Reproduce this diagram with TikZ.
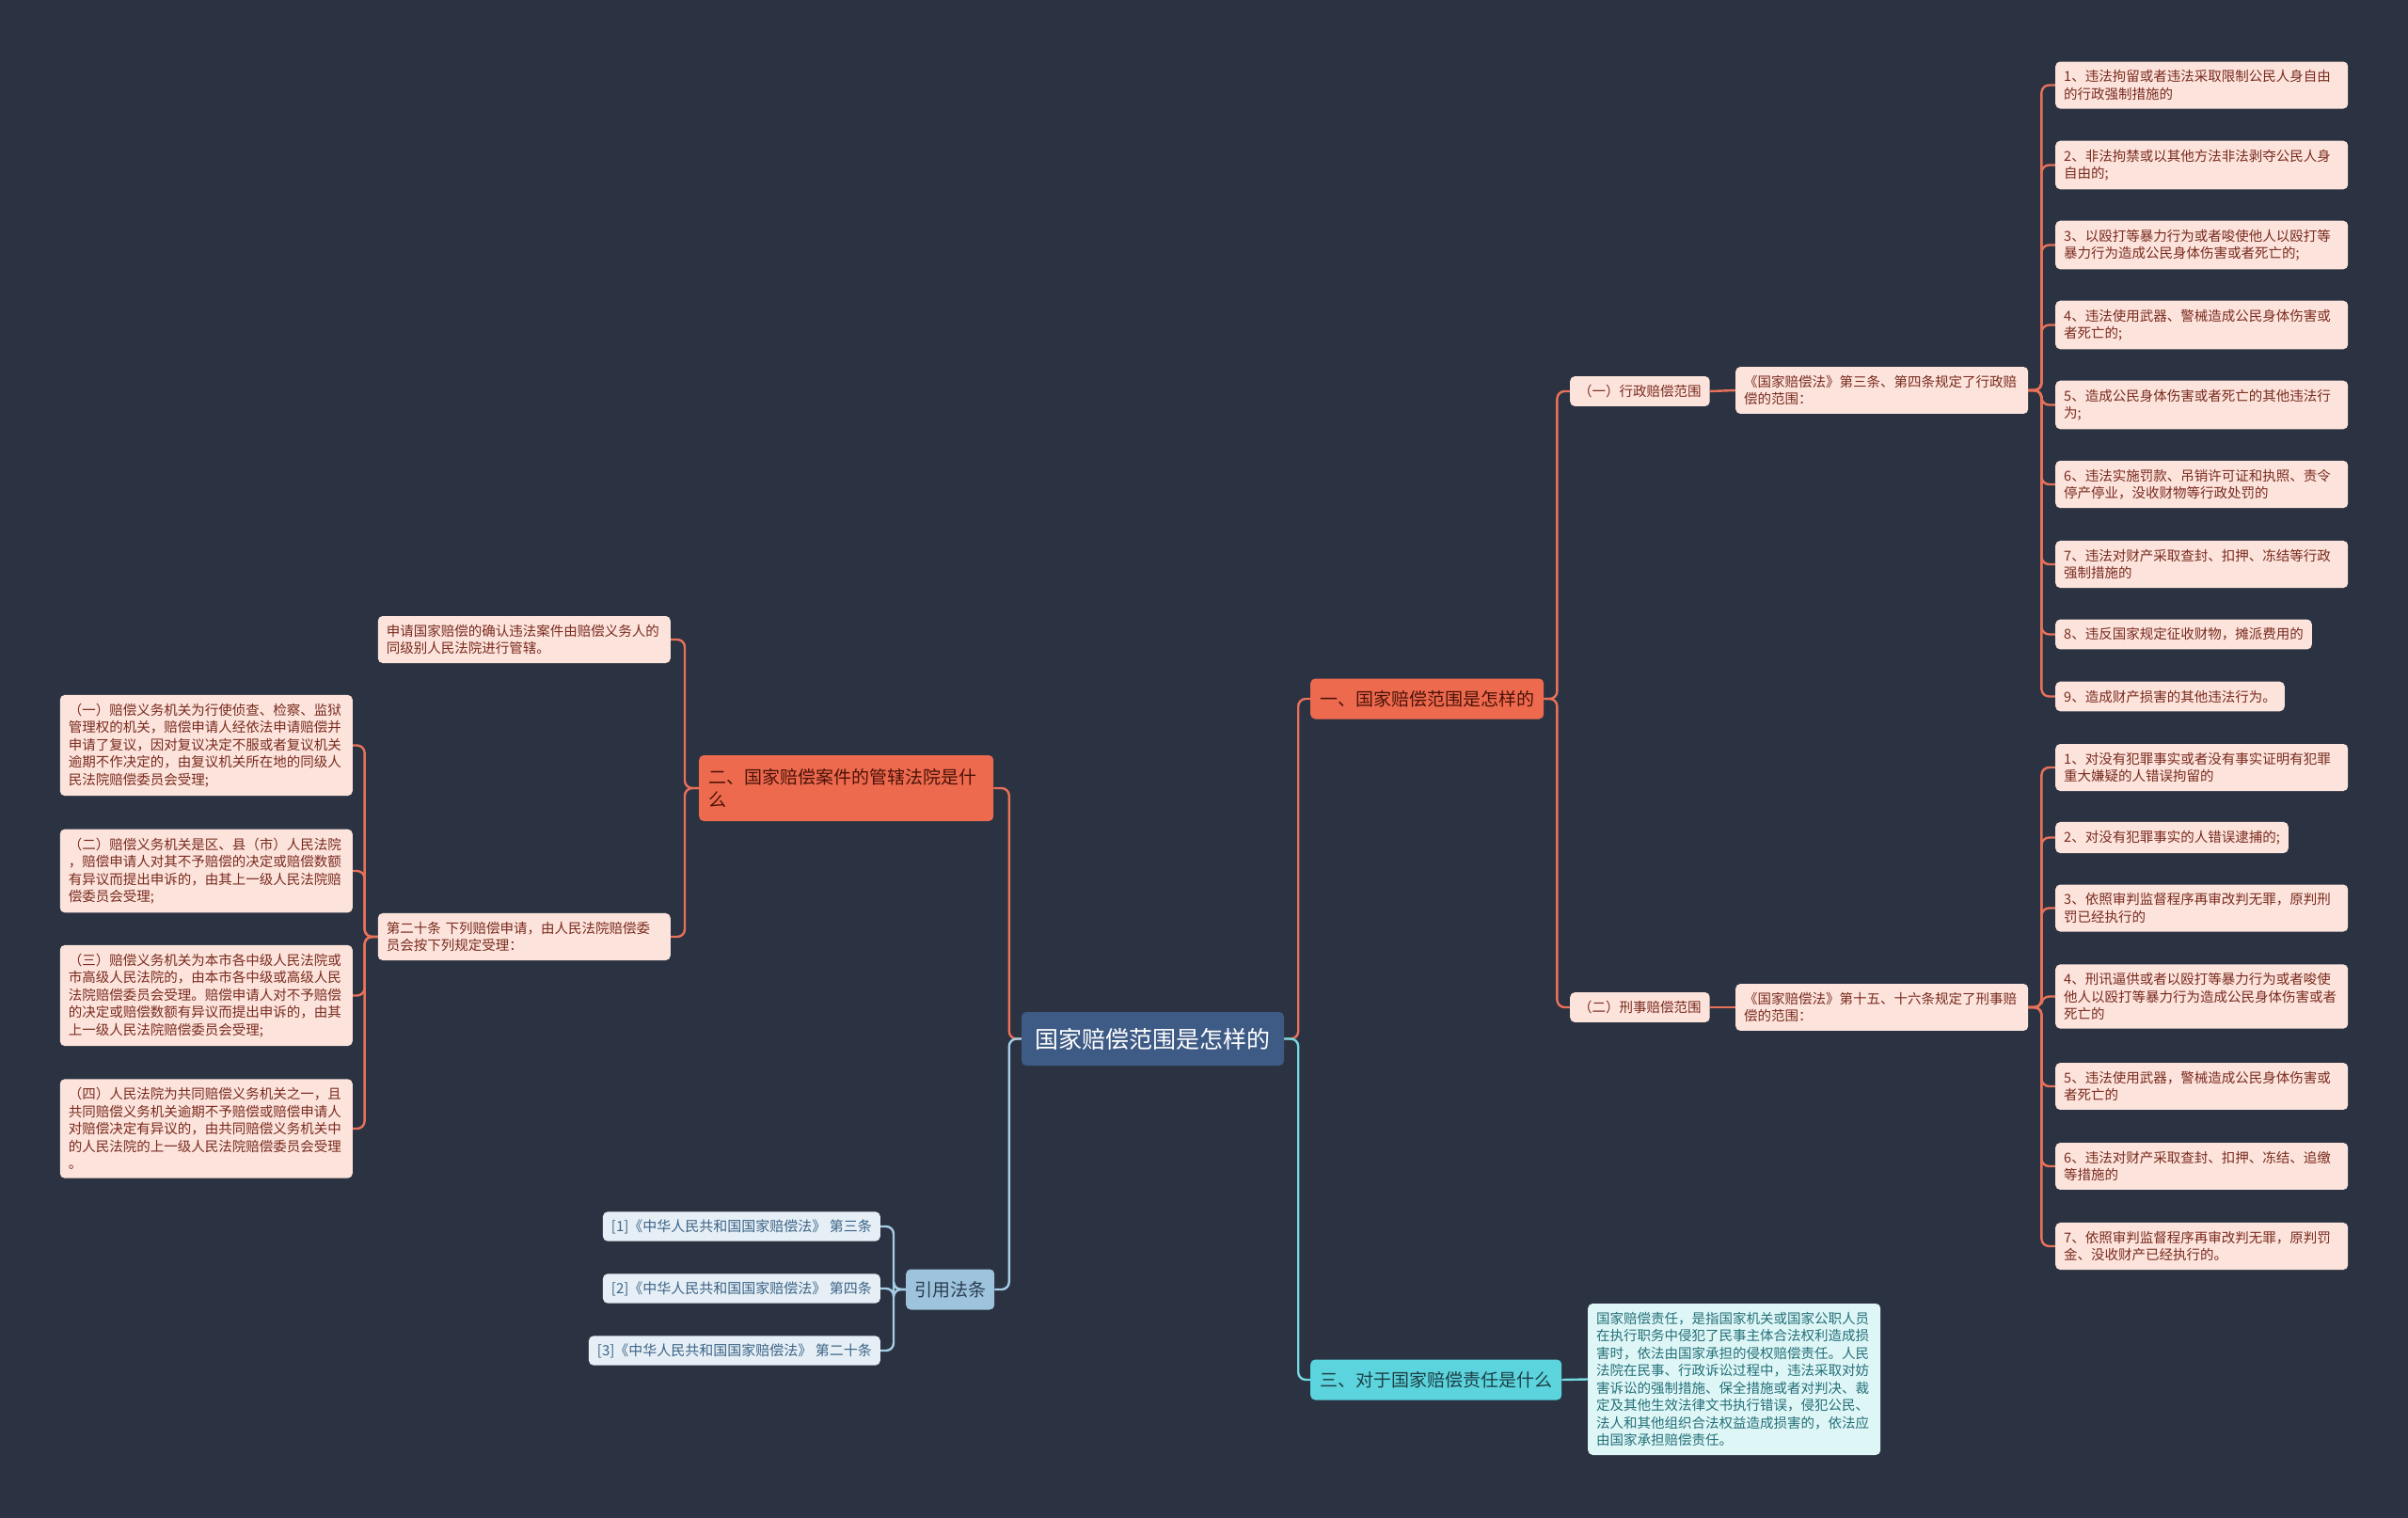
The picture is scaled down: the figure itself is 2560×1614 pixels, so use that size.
\documentclass[tikz,border=0pt]{standalone}
\usepackage{fontspec}
\newfontfamily\cjk{Noto Sans CJK SC}
\usetikzlibrary{positioning, backgrounds}
\definecolor{bgdark}{HTML}{2B3241}
\definecolor{rootblue}{HTML}{3E5B85}
\definecolor{coral}{HTML}{EE6A4E}
\definecolor{coralline}{HTML}{E8715A}
\definecolor{topicink}{HTML}{4A1208}
\definecolor{leafpink}{HTML}{FCE4DC}
\definecolor{leafink}{HTML}{7A2A1E}
\definecolor{aqua}{HTML}{5CD4DD}
\definecolor{aqualine}{HTML}{74D8E0}
\definecolor{aquaink}{HTML}{1D3F46}
\definecolor{aqualeaf}{HTML}{DFF6F7}
\definecolor{aqualeafink}{HTML}{237078}
\definecolor{steel}{HTML}{9EC3DC}
\definecolor{steelline}{HTML}{A6CDE6}
\definecolor{steelink}{HTML}{2A3E52}
\definecolor{steelleaf}{HTML}{E6EFF5}
\definecolor{steelleafink}{HTML}{3C6488}

\begin{document}
\begin{tikzpicture}[
    x=1pt, y=-1pt,
    rootbox/.style={fill=rootblue, text=white, rounded corners=5pt, minimum width=279pt, minimum height=57pt, font=\cjk\fontsize{25}{30}\selectfont},
    topic/.style={fill=coral, text=topicink, rounded corners=5pt, minimum height=43pt, inner xsep=10pt, align=left, font=\cjk\fontsize{19}{24}\selectfont},
    leaf/.style={fill=leafpink, text=leafink, rounded corners=5pt, inner xsep=9pt, inner ysep=9pt, align=left, font=\cjk\fontsize{14.5}{18.5}\selectfont},
    wide/.style={text width=293pt},
    citeleaf/.style={leaf, fill=steelleaf, text=steelleafink, font=\cjk\fontsize{15}{18}\selectfont, inner ysep=8pt},
    link/.style={draw=coralline, line width=2.4pt, rounded corners=8pt}
]

% canvas
\begin{scope}[on background layer]
\fill[bgdark] (0,0) rectangle (2560,1614);
\end{scope}

% centre
\node[rootbox] (root) at (1225.5,1104.5) {国家赔偿范围是怎样的};

% branch one
\node[topic, anchor=west] (one) at (1393,743) {一、国家赔偿范围是怎样的};
\node[leaf, anchor=west] (adm) at (1669,416) {（一）行政赔偿范围};
\node[leaf, wide, anchor=west] (admlaw) at (1845,415) {《国家赔偿法》第三条、第四条规定了行政赔\\偿的范围：};
\node[leaf, anchor=west] (crim) at (1669,1071) {（二）刑事赔偿范围};
\node[leaf, wide, anchor=west] (crimlaw) at (1845,1071) {《国家赔偿法》第十五、十六条规定了刑事赔\\偿的范围：};

\node[leaf, wide, anchor=west] (a1) at (2185,90.5) {1、违法拘留或者违法采取限制公民人身自由\\的行政强制措施的};
\node[leaf, wide, anchor=west] (a2) at (2185,175.5) {2、非法拘禁或以其他方法非法剥夺公民人身\\自由的;};
\node[leaf, wide, anchor=west] (a3) at (2185,260.5) {3、以殴打等暴力行为或者唆使他人以殴打等\\暴力行为造成公民身体伤害或者死亡的;};
\node[leaf, wide, anchor=west] (a4) at (2185,345.5) {4、违法使用武器、警械造成公民身体伤害或\\者死亡的;};
\node[leaf, wide, anchor=west] (a5) at (2185,430.5) {5、造成公民身体伤害或者死亡的其他违法行\\为;};
\node[leaf, wide, anchor=west] (a6) at (2185,515) {6、违法实施罚款、吊销许可证和执照、责令\\停产停业，没收财物等行政处罚的};
\node[leaf, wide, anchor=west] (a7) at (2185,600) {7、违法对财产采取查封、扣押、冻结等行政\\强制措施的};
\node[leaf, anchor=west] (a8) at (2185,674.5) {8、违反国家规定征收财物，摊派费用的};
\node[leaf, anchor=west] (a9) at (2185,740.5) {9、造成财产损害的其他违法行为。};

\node[leaf, wide, anchor=west] (c1) at (2185,816) {1、对没有犯罪事实或者没有事实证明有犯罪\\重大嫌疑的人错误拘留的};
\node[leaf, anchor=west] (c2) at (2185,890.5) {2、对没有犯罪事实的人错误逮捕的;};
\node[leaf, wide, anchor=west] (c3) at (2185,965.5) {3、依照审判监督程序再审改判无罪，原判刑\\罚已经执行的};
\node[leaf, wide, anchor=west] (c4) at (2185,1059.5) {4、刑讯逼供或者以殴打等暴力行为或者唆使\\他人以殴打等暴力行为造成公民身体伤害或者\\死亡的};
\node[leaf, wide, anchor=west] (c5) at (2185,1155) {5、违法使用武器，警械造成公民身体伤害或\\者死亡的};
\node[leaf, wide, anchor=west] (c6) at (2185,1240) {6、违法对财产采取查封、扣押、冻结、追缴\\等措施的};
\node[leaf, wide, anchor=west] (c7) at (2185,1325) {7、依照审判监督程序再审改判无罪，原判罚\\金、没收财产已经执行的。};

% branch two
\node[topic, anchor=west, text width=293pt, minimum height=70pt] (two) at (743,838) {二、国家赔偿案件的管辖法院是什\\么};
\node[leaf, wide, anchor=east] (court) at (713,680) {申请国家赔偿的确认违法案件由赔偿义务人的\\同级别人民法院进行管辖。};
\node[leaf, wide, anchor=east] (art20) at (713,996) {第二十条 下列赔偿申请，由人民法院赔偿委\\员会按下列规定受理：};
\node[leaf, wide, anchor=east] (l1) at (375,792.5) {（一）赔偿义务机关为行使侦查、检察、监狱\\管理权的机关，赔偿申请人经依法申请赔偿并\\申请了复议，因对复议决定不服或者复议机关\\逾期不作决定的，由复议机关所在地的同级人\\民法院赔偿委员会受理;};
\node[leaf, wide, anchor=east] (l2) at (375,926) {（二）赔偿义务机关是区、县（市）人民法院\\，赔偿申请人对其不予赔偿的决定或赔偿数额\\有异议而提出申诉的，由其上一级人民法院赔\\偿委员会受理;};
\node[leaf, wide, anchor=east] (l3) at (375,1058.5) {（三）赔偿义务机关为本市各中级人民法院或\\市高级人民法院的，由本市各中级或高级人民\\法院赔偿委员会受理。赔偿申请人对不予赔偿\\的决定或赔偿数额有异议而提出申诉的，由其\\上一级人民法院赔偿委员会受理;};
\node[leaf, wide, anchor=east] (l4) at (375,1200) {（四）人民法院为共同赔偿义务机关之一，且\\共同赔偿义务机关逾期不予赔偿或赔偿申请人\\对赔偿决定有异议的，由共同赔偿义务机关中\\的人民法院的上一级人民法院赔偿委员会受理\\。};

% branch three
\node[topic, fill=aqua, text=aquaink, anchor=west] (three) at (1393,1467) {三、对于国家赔偿责任是什么};
\node[leaf, wide, fill=aqualeaf, text=aqualeafink, anchor=west] (duty) at (1688,1466.5) {国家赔偿责任，是指国家机关或国家公职人员\\在执行职务中侵犯了民事主体合法权利造成损\\害时，依法由国家承担的侵权赔偿责任。人民\\法院在民事、行政诉讼过程中，违法采取对妨\\害诉讼的强制措施、保全措施或者对判决、裁\\定及其他生效法律文书执行错误，侵犯公民、\\法人和其他组织合法权益造成损害的，依法应\\由国家承担赔偿责任。};

% citations
\node[topic, fill=steel, text=steelink, inner xsep=9pt, anchor=west] (cite) at (963,1371) {引用法条};
\node[citeleaf, anchor=east] (r1) at (936,1304) {[1]《中华人民共和国国家赔偿法》 第三条};
\node[citeleaf, anchor=east] (r2) at (936,1370) {[2]《中华人民共和国国家赔偿法》 第四条};
\node[citeleaf, anchor=east] (r3) at (936,1436) {[3]《中华人民共和国国家赔偿法》 第二十条};

% connectors
\begin{scope}[on background layer]
\draw[link] (root.west) -- ++(-13,0) |- (two.east);
\draw[link, draw=steelline] (root.west) -- ++(-13,0) |- (cite.east);
\draw[link] (root.east) -- ++(15,0) |- (one.west);
\draw[link, draw=aqualine] (root.east) -- ++(15,0) |- (three.west);

\draw[link] (one.east) -- ++(14,0) |- (adm.west);
\draw[link] (one.east) -- ++(14,0) |- (crim.west);
\draw[link] (adm.east) -- (admlaw.west);
\draw[link] (crim.east) -- (crimlaw.west);
\draw[link] (admlaw.east) -- ++(14,0) |- (a1.west);
\draw[link] (admlaw.east) -- ++(14,0) |- (a2.west);
\draw[link] (admlaw.east) -- ++(14,0) |- (a3.west);
\draw[link] (admlaw.east) -- ++(14,0) |- (a4.west);
\draw[link] (admlaw.east) -- ++(14,0) |- (a5.west);
\draw[link] (admlaw.east) -- ++(14,0) |- (a6.west);
\draw[link] (admlaw.east) -- ++(14,0) |- (a7.west);
\draw[link] (admlaw.east) -- ++(14,0) |- (a8.west);
\draw[link] (admlaw.east) -- ++(14,0) |- (a9.west);
\draw[link] (crimlaw.east) -- ++(14,0) |- (c1.west);
\draw[link] (crimlaw.east) -- ++(14,0) |- (c2.west);
\draw[link] (crimlaw.east) -- ++(14,0) |- (c3.west);
\draw[link] (crimlaw.east) -- ++(14,0) |- (c4.west);
\draw[link] (crimlaw.east) -- ++(14,0) |- (c5.west);
\draw[link] (crimlaw.east) -- ++(14,0) |- (c6.west);
\draw[link] (crimlaw.east) -- ++(14,0) |- (c7.west);

\draw[link] (two.west) -- ++(-15,0) |- (court.east);
\draw[link] (two.west) -- ++(-15,0) |- (art20.east);
\draw[link] (art20.west) -- ++(-14,0) |- (l1.east);
\draw[link] (art20.west) -- ++(-14,0) |- (l2.east);
\draw[link] (art20.west) -- ++(-14,0) |- (l3.east);
\draw[link] (art20.west) -- ++(-14,0) |- (l4.east);

\draw[link, draw=aqualine] (three.east) -- (duty.west);

\draw[link, draw=steelline] (cite.west) -- ++(-13,0) |- (r1.east);
\draw[link, draw=steelline] (cite.west) -- ++(-13,0) |- (r2.east);
\draw[link, draw=steelline] (cite.west) -- ++(-13,0) |- (r3.east);
\end{scope}

\end{tikzpicture}
\end{document}
